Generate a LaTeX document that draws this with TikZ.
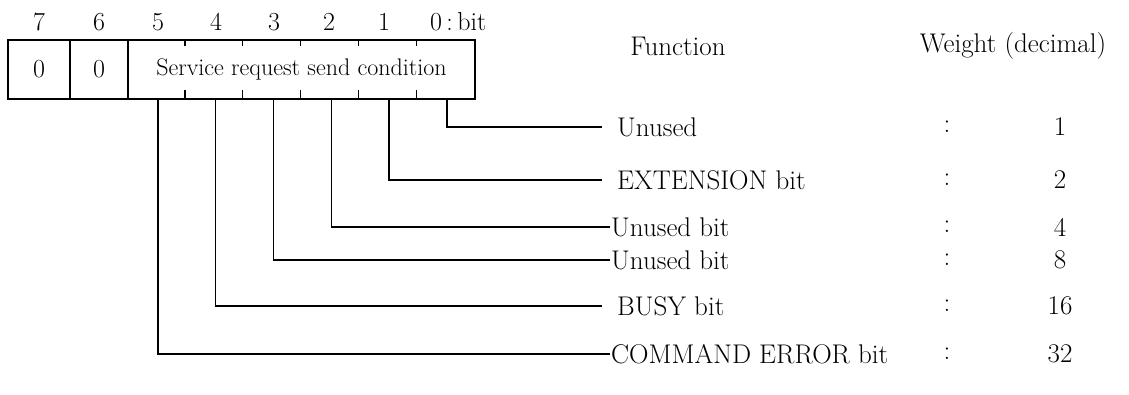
\documentclass[tikz,border=0pt]{standalone}
\usepackage{tikz}
\usetikzlibrary{calc}
\begin{document}
\begin{tikzpicture}[x=1pt, y=-1pt, font=\fontsize{27}{30}\selectfont]
	% --- Parametri ---
	\def\bitW{57.8}
	\def\midY{69.5}
	\def\colX{947}
	\def\wtX{1060}
	
	% --- Stili ---
	\tikzset{
		reg/.style={draw=black, line width=1.6pt, minimum height=59pt, inner sep=0pt},
		tick/.style={draw=black, line width=1.3pt},
		wire/.style={draw=black, line width=1.3pt},
		fn/.style={anchor=west, inner ysep=0pt, inner xsep=15pt},
		fntight/.style={anchor=west, inner ysep=0pt, inner xsep=1pt},
		bitnum/.style={inner sep=0pt, font=\fontsize{26}{28}\selectfont}
	}
	
	\useasboundingbox (0,0) rectangle (1129,395);
	
	% --- Registro ---
	\node[reg, minimum width=62pt, font=\fontsize{26}{28}\selectfont] (c7) at (39,\midY) {0};
	\node[reg, minimum width=58pt, font=\fontsize{26}{28}\selectfont] (c6) at (99,\midY) {0};
	\node[reg, minimum width=347pt, font=\fontsize{24}{26}\selectfont] (cs) at (301.5,\midY) {Service request send condition};
	\foreach \i in {1,...,5} {
		\draw[tick] ($(cs.north west)+(\i*\bitW,0)$) -- ++(0,7);
		\draw[tick] ($(cs.south west)+(\i*\bitW,0)$) -- ++(0,-10);
	}
	\foreach \i in {0,...,5}
		\coordinate (b\i) at ($(cs.south east)+(-\i*\bitW-0.5*\bitW,0)$);
	
	% --- Numeri dei bit ---
	\node[bitnum] (n7) at (39,22) {7};
	\node[bitnum] (n6) at (99,22) {6};
	\node[bitnum] (n5) at (158,22) {5};
	\node[bitnum] (n4) at (216,22) {4};
	\node[bitnum] (n3) at (274,22) {3};
	\node[bitnum] (n2) at (329,22) {2};
	\node[bitnum] (n1) at (384,22) {1};
	\node[bitnum, anchor=west] (n0) at (430,22) {0\,:\,bit};
	
	% --- Intestazioni ---
	\node (hfn) at (678,46) {Function};
	\node (hwt) at (1013,46) {Weight (decimal)};
	
	% --- Funzioni ---
	\node[fn] (f0) at (602,127) {Unused};
	\node[fn] (f1) at (602,180) {EXTENSION bit};
	\node[fntight] (f2) at (610,227) {Unused bit};
	\node[fntight] (f3) at (610,260) {Unused bit};
	\node[fn] (f4) at (602,306) {BUSY bit};
	\node[fntight] (f5) at (610,354) {COMMAND ERROR bit};
	
	\draw[wire] (b0) |- (f0.west);
	\draw[wire] (b1) |- (f1.west);
	\draw[wire] (b2) |- (f2.west);
	\draw[wire] (b3) |- (f3.west);
	\draw[wire] (b4) |- (f4.west);
	\draw[wire] (b5) |- (f5.west);
	
	% --- Pesi ---
	\node (k0) at (\colX,127) {:};
	\node (k1) at (\colX,180) {:};
	\node (k2) at (\colX,227) {:};
	\node (k3) at (\colX,260) {:};
	\node (k4) at (\colX,306) {:};
	\node (k5) at (\colX,354) {:};
	\node (w0) at (\wtX,127) {1};
	\node (w1) at (\wtX,180) {2};
	\node (w2) at (\wtX,227) {4};
	\node (w3) at (\wtX,260) {8};
	\node (w4) at (\wtX,306) {16};
	\node (w5) at (\wtX,354) {32};
\end{tikzpicture}
\end{document}
